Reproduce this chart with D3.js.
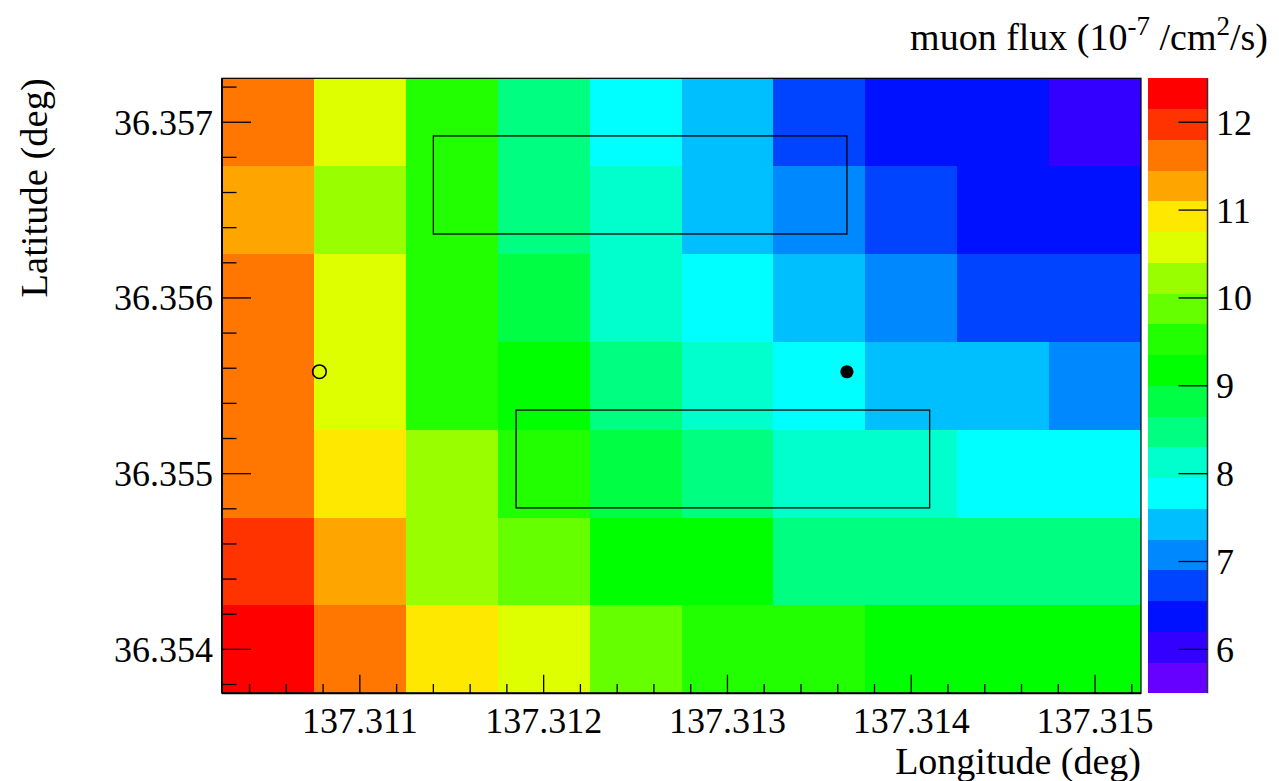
<!DOCTYPE html>
<html>
<head>
<meta charset="utf-8">
<script src="https://cdn.jsdelivr.net/npm/d3@7"></script>
<style>
  html, body { margin: 0; padding: 0; background: #fff; }
  svg { display: block; }
  text { font-family: "Liberation Serif", "Times New Roman", serif; fill: #000; }
</style>
</head>
<body>
<svg id="chart" width="1279" height="781"></svg>
<script>
// Bin centres of the flux map (degrees)
const longitudes = [137.3105, 137.3110, 137.3115, 137.3120, 137.3125,
                    137.3130, 137.3135, 137.3140, 137.3145, 137.3150];
const latitudes = [36.3570, 36.3565, 36.3560, 36.3555, 36.3550, 36.3545, 36.3540];

// Muon flux (1e-7 /cm^2/s), one row per latitude, north to south
const fluxLat3570 = [11.6, 10.6, 9.5, 8.5, 7.8, 7.4, 6.7, 6.4, 6.4, 6.0];
const fluxLat3565 = [11.3, 10.2, 9.5, 8.5, 8.1, 7.4, 7.1, 6.7, 6.4, 6.4];
const fluxLat3560 = [11.6, 10.6, 9.5, 8.8, 8.1, 7.8, 7.4, 7.1, 6.7, 6.7];
const fluxLat3555 = [11.6, 10.6, 9.5, 9.2, 8.5, 8.1, 7.8, 7.4, 7.4, 7.1];
const fluxLat3550 = [11.6, 10.9, 10.2, 9.5, 8.8, 8.5, 8.1, 8.1, 7.8, 7.8];
const fluxLat3545 = [11.95, 11.3, 10.2, 9.9, 9.2, 9.2, 8.5, 8.5, 8.5, 8.5];
const fluxLat3540 = [12.3, 11.6, 10.9, 10.6, 9.9, 9.5, 9.5, 9.2, 9.2, 9.2];
const fluxRows = [fluxLat3570, fluxLat3565, fluxLat3560, fluxLat3555,
                  fluxLat3550, fluxLat3545, fluxLat3540];

// Axis ticks
const lonTicks = [137.311, 137.312, 137.313, 137.314, 137.315];
const latTicks = [36.354, 36.355, 36.356, 36.357];
const fluxTicks = [6, 7, 8, 9, 10, 11, 12];
const fluxRange = [5.5, 12.5];
const fluxLevels = 20;

// Outlined regions [lonMin, lonMax, latMin, latMax]
const regionNorth = [137.3114, 137.31365, 36.356364, 36.356922];
const regionSouth = [137.31185, 137.3141, 36.354805, 36.355362];

// Marked positions [lon, lat]
const pointOpen = [137.31078, 36.35558];
const pointFilled = [137.31365, 36.35558];

// Contour palette, lowest level first
const palette = ["#6600ff", "#3300ff", "#0011ff", "#0044ff", "#0088ff",
                 "#00bfff", "#00ffff", "#00ffcc", "#00ff80", "#00ff44",
                 "#00ff00", "#22ff00", "#66ff00", "#99ff00", "#ddff00",
                 "#ffe800", "#ffa500", "#ff7700", "#ff3300", "#ff0000"];

const svg = d3.select("#chart");
const frame = { left: 222, top: 78.3, right: 1141, bottom: 693.3 };
const bar = { left: 1147.5, right: 1207.5 };
const binLon = 0.0005, binLat = 0.0005;

const x = d3.scaleLinear()
  .domain([d3.min(longitudes) - binLon / 2, d3.max(longitudes) + binLon / 2])
  .range([frame.left, frame.right]);
const y = d3.scaleLinear()
  .domain([d3.min(latitudes) - binLat / 2, d3.max(latitudes) + binLat / 2])
  .range([frame.bottom, frame.top]);

const levelStep = (fluxRange[1] - fluxRange[0]) / fluxLevels;
const thresholds = d3.range(1, fluxLevels).map(i => fluxRange[0] + i * levelStep);
const color = d3.scaleThreshold().domain(thresholds).range(palette);

// Heat map cells
const cells = [];
fluxRows.forEach((row, r) => row.forEach((v, c) => {
  cells.push({ lon: longitudes[c], lat: latitudes[r], v });
}));
svg.append("g").attr("shape-rendering", "crispEdges")
  .selectAll("rect").data(cells).join("rect")
  .attr("x", d => x(d.lon - binLon / 2))
  .attr("y", d => y(d.lat + binLat / 2))
  .attr("width", d => x(d.lon + binLon / 2) - x(d.lon - binLon / 2))
  .attr("height", d => y(d.lat - binLat / 2) - y(d.lat + binLat / 2))
  .attr("fill", d => color(d.v));

// Region outlines
svg.append("g").selectAll("rect").data([regionNorth, regionSouth]).join("rect")
  .attr("x", d => x(d[0]))
  .attr("y", d => y(d[3]))
  .attr("width", d => x(d[1]) - x(d[0]))
  .attr("height", d => y(d[2]) - y(d[3]))
  .attr("fill", "none").attr("stroke", "#000").attr("stroke-width", 1.3);

// Markers
svg.append("circle")
  .attr("cx", x(pointOpen[0])).attr("cy", y(pointOpen[1])).attr("r", 6.8)
  .attr("fill", "none").attr("stroke", "#000").attr("stroke-width", 1.6);
svg.append("circle")
  .attr("cx", x(pointFilled[0])).attr("cy", y(pointFilled[1])).attr("r", 6.6)
  .attr("fill", "#000");

// Frame
svg.append("rect")
  .attr("x", frame.left).attr("y", frame.top)
  .attr("width", frame.right - frame.left).attr("height", frame.bottom - frame.top)
  .attr("fill", "none").attr("stroke", "#000").attr("stroke-width", 1.2);
svg.append("line").attr("x1", frame.left).attr("x2", frame.right)
  .attr("y1", frame.bottom).attr("y2", frame.bottom)
  .attr("stroke", "#000").attr("stroke-width", 2);
svg.append("line").attr("x1", frame.left).attr("x2", frame.left)
  .attr("y1", frame.top).attr("y2", frame.bottom)
  .attr("stroke", "#000").attr("stroke-width", 2);

// Minor tick helper: five divisions per major step, across the whole domain
function minorTicks(scale, majors) {
  const step = (majors[1] - majors[0]) / 5;
  const [d0, d1] = scale.domain();
  const lo = Math.ceil((d0 - majors[0]) / step - 1e-6);
  const hi = Math.floor((d1 - majors[0]) / step + 1e-6);
  return d3.range(lo, hi + 1).filter(k => k % 5 !== 0).map(k => majors[0] + k * step);
}

// Longitude axis
const xAxis = svg.append("g").attr("stroke", "#000").attr("stroke-width", 1.3);
xAxis.selectAll("line.major").data(lonTicks).join("line")
  .attr("x1", d => x(d)).attr("x2", d => x(d))
  .attr("y1", frame.bottom).attr("y2", frame.bottom - 18.5);
xAxis.selectAll("line.minor").data(minorTicks(x, lonTicks)).join("line")
  .attr("x1", d => x(d)).attr("x2", d => x(d))
  .attr("y1", frame.bottom).attr("y2", frame.bottom - 9.3);
svg.append("g").selectAll("text").data(lonTicks).join("text")
  .attr("x", d => x(d)).attr("y", 733)
  .attr("text-anchor", "middle").attr("font-size", 36)
  .text(d3.format(".3f"));

// Latitude axis
const yAxis = svg.append("g").attr("stroke", "#000").attr("stroke-width", 1.3);
yAxis.selectAll("line.major").data(latTicks).join("line")
  .attr("x1", frame.left).attr("x2", frame.left + 29)
  .attr("y1", d => y(d)).attr("y2", d => y(d));
yAxis.selectAll("line.minor").data(minorTicks(y, latTicks)).join("line")
  .attr("x1", frame.left).attr("x2", frame.left + 14.5)
  .attr("y1", d => y(d)).attr("y2", d => y(d));
svg.append("g").selectAll("text").data(latTicks).join("text")
  .attr("x", 213).attr("y", d => y(d) + 12.5)
  .attr("text-anchor", "end").attr("font-size", 36)
  .text(d3.format(".3f"));

// Axis titles
svg.append("text")
  .attr("x", frame.right).attr("y", 774)
  .attr("text-anchor", "end").attr("font-size", 38)
  .text("Longitude (deg)");
svg.append("text")
  .attr("transform", `translate(47,${frame.top}) rotate(-90)`)
  .attr("text-anchor", "end").attr("font-size", 38.5)
  .text("Latitude (deg)");

// Colour scale
const z = d3.scaleLinear().domain(fluxRange).range([frame.bottom, frame.top]);
const bands = d3.range(fluxLevels).map(i => ({
  lo: fluxRange[0] + i * levelStep,
  hi: fluxRange[0] + (i + 1) * levelStep
}));
svg.append("g").attr("shape-rendering", "crispEdges")
  .selectAll("rect").data(bands).join("rect")
  .attr("x", bar.left).attr("width", bar.right - bar.left)
  .attr("y", d => z(d.hi)).attr("height", d => z(d.lo) - z(d.hi))
  .attr("fill", d => color((d.lo + d.hi) / 2));
svg.append("line")
  .attr("x1", bar.right).attr("x2", bar.right)
  .attr("y1", frame.top).attr("y2", frame.bottom)
  .attr("stroke", "#333").attr("stroke-width", 1.5);
svg.append("g").attr("stroke", "#000").attr("stroke-width", 1.3)
  .selectAll("line").data(fluxTicks).join("line")
  .attr("x1", bar.right).attr("x2", bar.right - 29)
  .attr("y1", d => z(d)).attr("y2", d => z(d));
svg.append("g").selectAll("text").data(fluxTicks).join("text")
  .attr("x", 1216).attr("y", d => z(d) + 12.5)
  .attr("font-size", 36)
  .text(d => d);

// Colour scale title
const zTitle = svg.append("text")
  .attr("x", 1268).attr("y", 50)
  .attr("text-anchor", "end").attr("font-size", 38);
zTitle.append("tspan").text("muon flux (10");
zTitle.append("tspan").attr("font-size", 27).attr("dy", -15).text("-7");
zTitle.append("tspan").attr("dy", 15).text(" /cm");
zTitle.append("tspan").attr("font-size", 27).attr("dy", -15).text("2");
zTitle.append("tspan").attr("dy", 15).text("/s)");
</script>
</body>
</html>
